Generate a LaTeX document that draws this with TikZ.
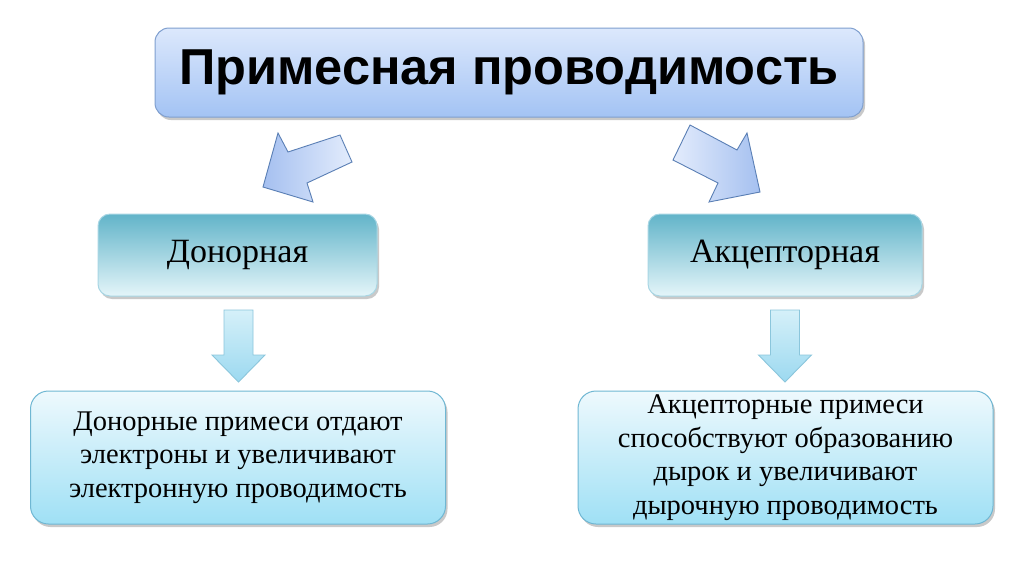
\documentclass[tikz,border=0pt]{standalone}
\usepackage{fontspec}
\setmainfont{Liberation Serif}
\newfontfamily\titlefont{Liberation Sans}
\usetikzlibrary{shadows}
\definecolor{ttop}{HTML}{DCE8FC}
\definecolor{tbot}{HTML}{A3C3F4}
\definecolor{tbrd}{HTML}{7F9FCF}
\definecolor{dtop}{HTML}{62B4C9}
\definecolor{dbot}{HTML}{E4F5F9}
\definecolor{dbrd}{HTML}{A8D6E4}
\definecolor{btop}{HTML}{EEF9FD}
\definecolor{bbot}{HTML}{9FE0F5}
\definecolor{bbrd}{HTML}{6FB7D3}
\definecolor{atop}{HTML}{E3ECFC}
\definecolor{abot}{HTML}{A5C0F0}
\definecolor{abrd}{HTML}{5A7FB5}
\definecolor{vtop}{HTML}{D5F0F9}
\definecolor{vbot}{HTML}{9CD9F0}
\definecolor{vbrd}{HTML}{8BC6DC}
\tikzset{
  shad/.style={drop shadow={shadow xshift=2pt,shadow yshift=-3pt,opacity=0.35,fill=black!60}},
  titlebox/.style={rounded corners=14pt,draw=tbrd,line width=1pt,top color=ttop,bottom color=tbot,shad,
    minimum width=708pt,minimum height=89pt,inner sep=0pt,font=\titlefont\bfseries\fontsize{50.5}{55}\selectfont},
  midbox/.style={rounded corners=12pt,draw=dbrd,line width=1pt,top color=dtop,bottom color=dbot,shad,
    minimum height=82pt,inner sep=0pt,font=\fontsize{34}{38}\selectfont},
  lowbox/.style={rounded corners=18pt,draw=bbrd,line width=1pt,top color=btop,bottom color=bbot,shad,
    minimum width=415pt,minimum height=133pt,inner sep=0pt,align=center,font=\fontsize{28.5}{33.5}\selectfont},
  diagarrowl/.style={draw=abrd,line width=0.9pt,left color=abot,right color=atop,line join=miter},
  diagarrowr/.style={draw=abrd,line width=0.9pt,left color=atop,right color=abot,line join=miter},
  downarrow/.style={draw=vbrd,line width=0.9pt,top color=vtop,bottom color=vbot,line join=miter},
}
\begin{document}
\begin{tikzpicture}[x=1pt,y=-1pt]
\useasboundingbox (0,0) rectangle (1024,574);
\fill[white] (0,0) rectangle (1024,574);
\node[titlebox] (title) at (509,72.5) {Примесная проводимость};
\node[midbox,minimum width=279pt] (don) at (237.5,255) {Донорная};
\node[midbox,minimum width=274pt] (acc) at (785,255) {Акцепторная};
\node[lowbox] (dtext) at (238,457.5) {Донорные примеси отдают\\электроны и увеличивают\\электронную проводимость};
\node[lowbox] (atext) at (785.5,457.5) {Акцепторные примеси\\способствуют образованию\\дырок и увеличивают\\дырочную проводимость};
% diagonal block arrows
\draw[diagarrowl] (263,187) -- (278,133) -- (288,152) -- (340,135) -- (352,162) -- (307,183) -- (313,202) -- cycle;
\draw[diagarrowr] (760,192) -- (747,133) -- (737,150) -- (690,125) -- (673,160) -- (718,183) -- (709,202) -- cycle;
% down arrows
\draw[downarrow] (224,310) -- (253,310) -- (253,355) -- (265,355) -- (238.5,382) -- (212,355) -- (224,355) -- cycle;
\draw[downarrow] (770.5,310) -- (799.5,310) -- (799.5,355) -- (811.5,355) -- (785,382) -- (758.5,355) -- (770.5,355) -- cycle;
\end{tikzpicture}
\end{document}
